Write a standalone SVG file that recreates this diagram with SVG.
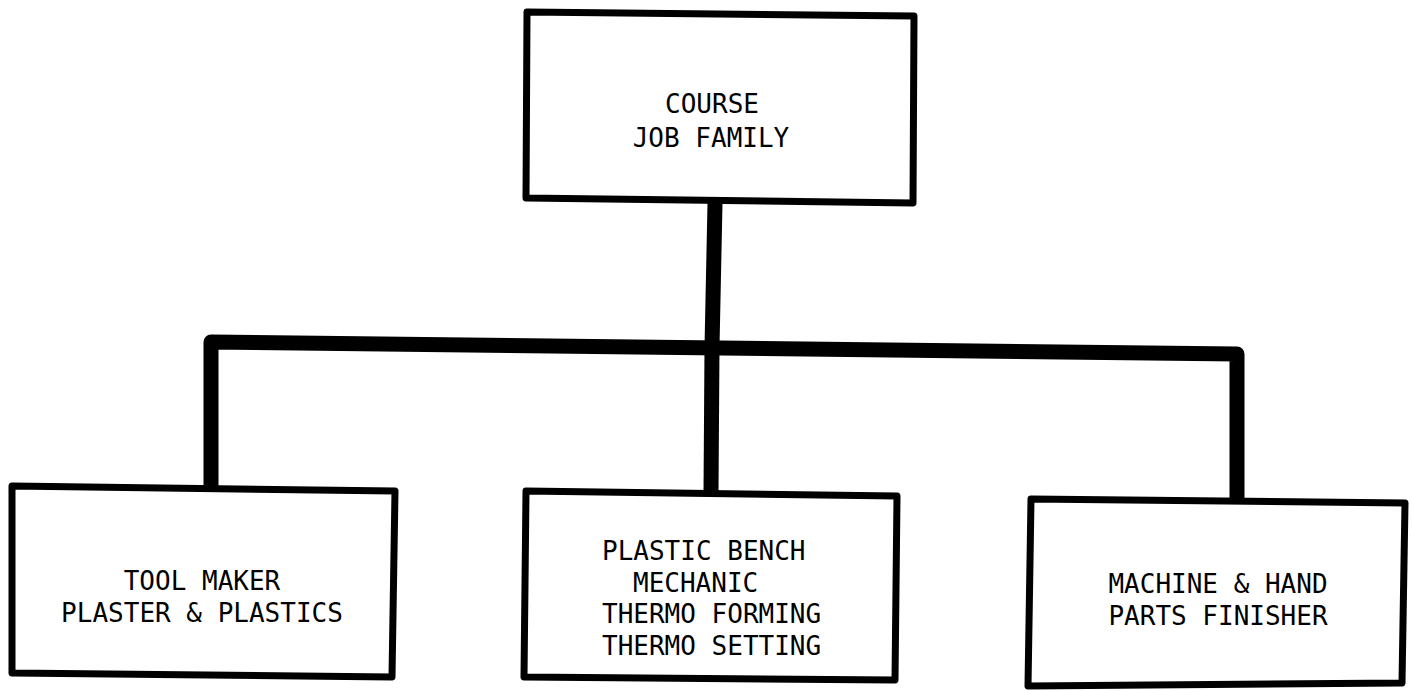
<svg xmlns="http://www.w3.org/2000/svg" width="1412" height="691" viewBox="0 0 1412 691">
<style>
.box{fill:#fff;stroke:#000;stroke-width:7;stroke-linejoin:round}
.con{fill:none;stroke:#000;stroke-width:15;stroke-linejoin:round}
.t{font-family:"DejaVu Sans Mono","Liberation Mono",monospace;font-size:26px;fill:#000}
.c{text-anchor:middle}
</style>
<rect width="1412" height="691" fill="#fff"/>
<g id="connectors">
<path class="con" d="M715,203 L712,347"/>
<path class="con" d="M211,486 L211,342 L1237,354 L1237,499"/>
<path class="con" d="M712,347 L711,492"/>
</g>
<g id="course">
<path class="box" d="M527,12 L914,16 L913,203 L526,198 Z"/>
<text class="t c" x="712" y="113">COURSE</text>
<text class="t c" x="711" y="147">JOB FAMILY</text>
</g>
<g id="toolmaker">
<path class="box" d="M12,486 L395,491 L392,677 L12,673 Z"/>
<text class="t c" x="202" y="590">TOOL MAKER</text>
<text class="t c" x="202" y="622">PLASTER &amp; PLASTICS</text>
</g>
<g id="bench">
<path class="box" d="M526,491 L897,496 L895,680 L524,677 Z"/>
<text class="t" x="602" y="560">PLASTIC BENCH</text>
<text class="t" x="633" y="592">MECHANIC</text>
<text class="t" x="602" y="623">THERMO FORMING</text>
<text class="t" x="602" y="655">THERMO SETTING</text>
</g>
<g id="finisher">
<path class="box" d="M1031,499 L1405,503 L1402,683 L1028,686 Z"/>
<text class="t c" x="1218" y="593">MACHINE &amp; HAND</text>
<text class="t c" x="1218" y="625">PARTS FINISHER</text>
</g>
</svg>
